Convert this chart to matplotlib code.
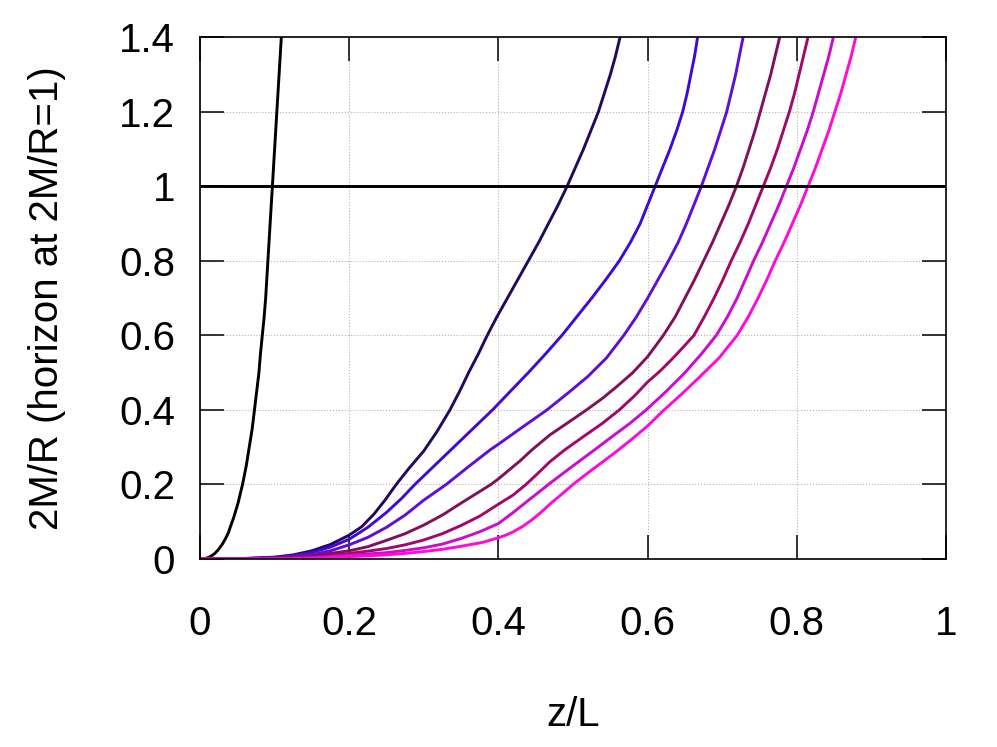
import matplotlib
matplotlib.use('Agg')
import matplotlib.pyplot as plt

plt.rcParams['font.family'] = ['Liberation Sans', 'DejaVu Sans']

# values
black_z = [0, 0.005, 0.01, 0.015, 0.02, 0.025, 0.03, 0.034, 0.038, 0.041, 0.045, 0.048, 0.051, 0.054, 0.057, 0.062, 0.066,
	0.07, 0.073, 0.076, 0.079, 0.081, 0.0835, 0.086, 0.088, 0.0895, 0.091, 0.094, 0.097, 0.1, 0.103, 0.106, 0.109]
black_v = [0, 0.0008, 0.003, 0.008, 0.015, 0.026, 0.04, 0.054, 0.07, 0.088, 0.11, 0.13, 0.15, 0.175, 0.2, 0.25, 0.3,
	0.35, 0.4, 0.45, 0.5, 0.55, 0.6, 0.65, 0.7, 0.75, 0.8, 0.9, 1.0, 1.1, 1.2, 1.3, 1.4]

navy_z = [0, 0.05, 0.1, 0.125, 0.15, 0.175, 0.2, 0.217, 0.233, 0.248, 0.263, 0.28, 0.3, 0.318, 0.335, 0.348, 0.36, 0.373,
	0.385, 0.398, 0.412, 0.426, 0.44, 0.454, 0.467, 0.48, 0.492, 0.503, 0.514, 0.524, 0.534, 0.542, 0.55, 0.557, 0.563]
navy_v = [0, 0.0005, 0.005, 0.011, 0.022, 0.039, 0.064, 0.087, 0.12, 0.158, 0.2, 0.243, 0.29, 0.343, 0.4, 0.45, 0.5, 0.55,
	0.6, 0.65, 0.7, 0.75, 0.8, 0.85, 0.9, 0.95, 1.0, 1.05, 1.1, 1.15, 1.2, 1.25, 1.3, 1.35, 1.4]

blue_z = [0, 0.05, 0.1, 0.125, 0.15, 0.175, 0.2, 0.225, 0.25, 0.27, 0.288, 0.314, 0.34, 0.366, 0.392, 0.416, 0.44, 0.463,
	0.485, 0.505, 0.525, 0.544, 0.562, 0.577, 0.59, 0.6, 0.61, 0.62, 0.63, 0.639, 0.647, 0.653, 0.658, 0.663, 0.667]
blue_v = [0, 0.0005, 0.004, 0.009, 0.018, 0.032, 0.053, 0.085, 0.125, 0.162, 0.2, 0.25, 0.3, 0.35, 0.4, 0.45, 0.5, 0.55,
	0.6, 0.65, 0.7, 0.75, 0.8, 0.85, 0.9, 0.95, 1.0, 1.05, 1.1, 1.15, 1.2, 1.25, 1.3, 1.35, 1.4]

violet_z = [0, 0.05, 0.1, 0.15, 0.175, 0.2, 0.225, 0.25, 0.275, 0.3, 0.33, 0.36, 0.389, 0.4, 0.433, 0.465, 0.493, 0.52,
	0.545, 0.568, 0.585, 0.6, 0.614, 0.628, 0.641, 0.652, 0.662, 0.672, 0.681, 0.69, 0.698, 0.706, 0.712, 0.718, 0.723, 0.728]
violet_v = [0, 0.0003, 0.003, 0.012, 0.022, 0.038, 0.058, 0.085, 0.118, 0.158, 0.2, 0.248, 0.293, 0.308, 0.355, 0.4, 0.445, 0.49,
	0.54, 0.6, 0.65, 0.7, 0.75, 0.8, 0.85, 0.9, 0.95, 1.0, 1.05, 1.1, 1.15, 1.2, 1.25, 1.3, 1.35, 1.4]

maroon_z = [0, 0.05, 0.1, 0.15, 0.2, 0.225, 0.25, 0.275, 0.3, 0.325, 0.35, 0.37, 0.39, 0.4, 0.43, 0.445, 0.469, 0.494,
	0.518, 0.54, 0.56, 0.58, 0.6, 0.621, 0.637, 0.65, 0.663, 0.675, 0.687, 0.698, 0.709, 0.719, 0.728, 0.736, 0.744, 0.751,
	0.758, 0.765, 0.771, 0.777]
maroon_v = [0, 0.0002, 0.002, 0.008, 0.022, 0.033, 0.05, 0.068, 0.091, 0.118, 0.15, 0.175, 0.2, 0.215, 0.265, 0.293, 0.333, 0.367,
	0.4, 0.432, 0.465, 0.5, 0.543, 0.6, 0.65, 0.7, 0.75, 0.8, 0.85, 0.9, 0.95, 1.0, 1.05, 1.1, 1.15, 1.2,
	1.25, 1.3, 1.35, 1.4]

crimson_z = [0, 0.05, 0.1, 0.15, 0.2, 0.225, 0.25, 0.275, 0.3, 0.325, 0.35, 0.375, 0.4, 0.42, 0.437, 0.453, 0.469, 0.489,
	0.515, 0.54, 0.562, 0.582, 0.6, 0.617, 0.632, 0.647, 0.662, 0.676, 0.689, 0.701, 0.712, 0.724, 0.735, 0.745, 0.755,
	0.765, 0.774, 0.782, 0.79, 0.797, 0.803, 0.809, 0.815]
crimson_v = [0, 0.0001, 0.001, 0.005, 0.015, 0.021, 0.028, 0.038, 0.051, 0.068, 0.09, 0.115, 0.147, 0.172, 0.2, 0.23, 0.261, 0.293,
	0.33, 0.365, 0.4, 0.437, 0.475, 0.505, 0.535, 0.567, 0.6, 0.65, 0.7, 0.75, 0.8, 0.85, 0.9, 0.95, 1.0,
	1.05, 1.1, 1.15, 1.2, 1.25, 1.3, 1.35, 1.4]

magenta_z = [0, 0.05, 0.1, 0.15, 0.2, 0.25, 0.275, 0.3, 0.325, 0.35, 0.375, 0.4, 0.42, 0.44, 0.469, 0.5, 0.525, 0.55,
	0.575, 0.598, 0.625, 0.65, 0.672, 0.692, 0.707, 0.72, 0.731, 0.742, 0.754, 0.765, 0.776, 0.786, 0.796, 0.805, 0.814,
	0.822, 0.829, 0.836, 0.843, 0.849]
magenta_v = [0, 0.0001, 0.0007, 0.003, 0.01, 0.017, 0.023, 0.03, 0.04, 0.055, 0.073, 0.095, 0.125, 0.157, 0.203, 0.25, 0.287, 0.325,
	0.362, 0.4, 0.45, 0.5, 0.55, 0.6, 0.65, 0.7, 0.75, 0.8, 0.85, 0.9, 0.95, 1.0, 1.05, 1.1, 1.15,
	1.2, 1.25, 1.3, 1.35, 1.4]

pink_z = [0, 0.05, 0.1, 0.15, 0.2, 0.25, 0.275, 0.3, 0.325, 0.35, 0.38, 0.4, 0.41, 0.42, 0.433, 0.445, 0.457, 0.469, 0.485,
	0.5, 0.518, 0.536, 0.556, 0.578, 0.6, 0.622, 0.647, 0.67, 0.696, 0.72, 0.735, 0.748, 0.76, 0.771, 0.783, 0.794, 0.805,
	0.815, 0.825, 0.834, 0.843, 0.851, 0.859, 0.866, 0.873, 0.879]
pink_v = [0, 0.0001, 0.0005, 0.002, 0.006, 0.011, 0.015, 0.02, 0.026, 0.034, 0.045, 0.057, 0.064, 0.073, 0.088, 0.105, 0.125, 0.147, 0.174,
	0.2, 0.228, 0.255, 0.285, 0.32, 0.357, 0.4, 0.445, 0.489, 0.54, 0.6, 0.65, 0.7, 0.75, 0.8, 0.85, 0.9, 0.95,
	1.0, 1.05, 1.1, 1.15, 1.2, 1.25, 1.3, 1.35, 1.4]

horizon = 1.0

curves = [
	(navy_z, navy_v, '#23095e'),
	(blue_z, blue_v, '#3f0ad8'),
	(violet_z, violet_v, '#5e0fd6'),
	(maroon_z, maroon_v, '#80105e'),
	(crimson_z, crimson_v, '#a2086c'),
	(magenta_z, magenta_v, '#cc0ccc'),
	(pink_z, pink_v, '#ff0ad6'),
]

fig = plt.figure(figsize=(9.97, 7.47), dpi=100)
ax = fig.add_axes([0.2006, 0.2517, 0.7482, 0.6981])

ax.plot(black_z, black_v, color='black', lw=2.1, solid_joinstyle='round')
for z, v, c in curves:
	ax.plot(z, v, color=c, lw=2.1, solid_joinstyle='round')
ax.axhline(horizon, color='black', lw=2.1, zorder=5)

ax.set_xlim(0, 1)
ax.set_ylim(0, 1.4)
ax.set_xticks([0, 0.2, 0.4, 0.6, 0.8, 1])
ax.set_xticklabels(['0', '0.2', '0.4', '0.6', '0.8', '1'])
ax.set_yticks([0, 0.2, 0.4, 0.6, 0.8, 1, 1.2, 1.4])
ax.set_yticklabels(['0', '0.2', '0.4', '0.6', '0.8', '1', '1.2', '1.4'])
ax.grid(True, linestyle=':', color='#b4b4b4', lw=0.8)
ax.tick_params(direction='in', length=17, width=1.1, top=True, right=True, labelsize=29, colors='black')
ax.tick_params(axis='x', pad=33)
ax.tick_params(axis='y', pad=18)
for s in ax.spines.values():
	s.set_linewidth(1.2)

ax.set_xlabel('z/L', fontsize=29, labelpad=38)
ax.set_ylabel('2M/R (horizon at 2M/R=1)', fontsize=29, labelpad=38)

fig.savefig('out.png', dpi=100)
